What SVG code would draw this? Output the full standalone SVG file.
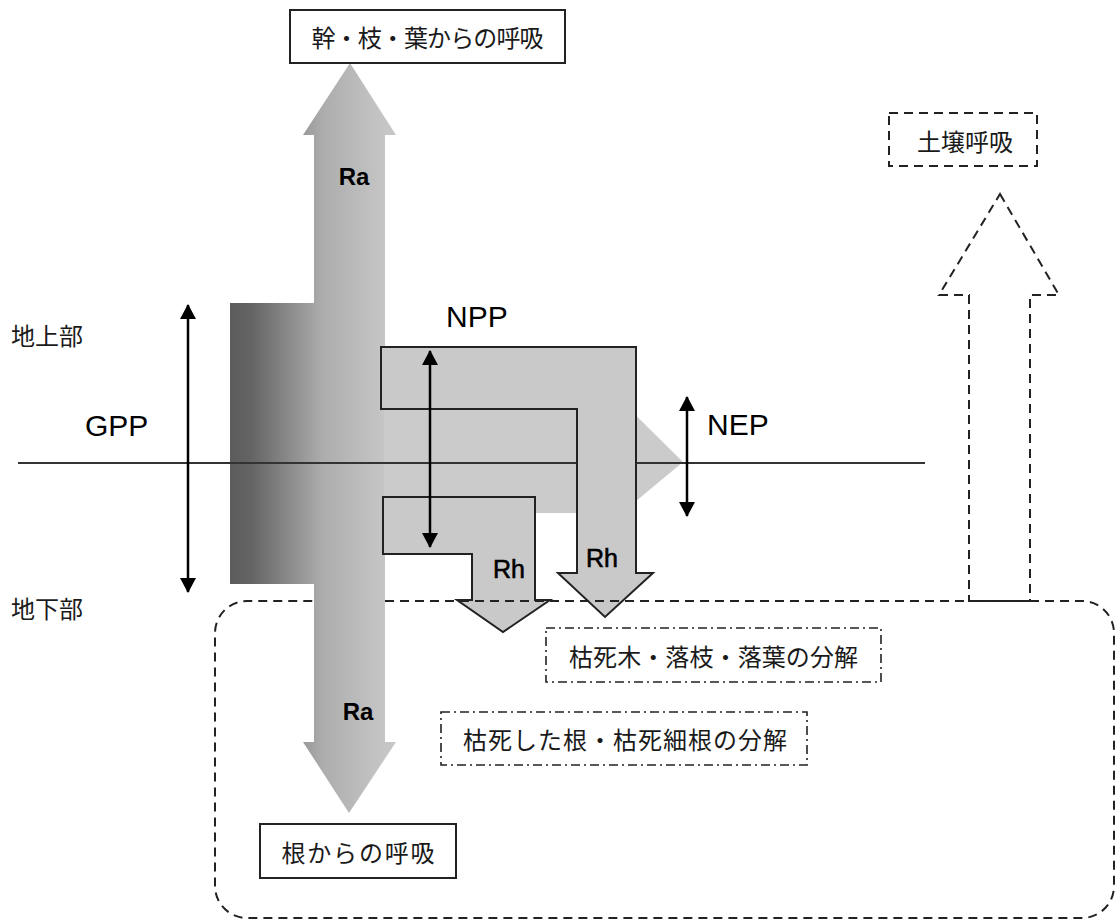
<svg xmlns="http://www.w3.org/2000/svg" width="1116" height="920" viewBox="0 0 1116 920">
<style>
.jp{font-family:"Noto Sans CJK JP","Noto Sans",sans-serif;font-size:24px;fill:#1a1a1a}
.lbl{font-family:"Liberation Sans",Arial,sans-serif;font-size:30px;fill:#000}
.ra{font-family:"Liberation Sans",Arial,sans-serif;font-size:24px;font-weight:bold;fill:#000;text-anchor:middle}
.rh{font-family:"Liberation Sans",Arial,sans-serif;font-size:25px;fill:#000;stroke:#000;stroke-width:0.6;text-anchor:middle}
.box{fill:#fff;stroke:#222;stroke-width:2}
.dash{fill:none;stroke:#222;stroke-width:2;stroke-dasharray:9 6}
.dashdot{fill:#fff;stroke:#222;stroke-width:1.6;stroke-dasharray:9 4 2 4}
.flow{fill:#c9c9c9;stroke:#222;stroke-width:2;stroke-linejoin:miter}
.dbl{stroke:#000;stroke-width:2.5;fill:none;marker-start:url(#ah);marker-end:url(#ah)}
</style>
<defs>
<linearGradient id="g" gradientUnits="userSpaceOnUse" x1="230" y1="0" x2="385" y2="0">
<stop offset="0" stop-color="#5c5c5c"/>
<stop offset="0.14" stop-color="#646464"/>
<stop offset="0.6" stop-color="#adadad"/>
<stop offset="1" stop-color="#c6c6c6"/>
</linearGradient>
<marker id="ah" viewBox="0 0 15 16" refX="14" refY="8" markerWidth="15" markerHeight="16" markerUnits="userSpaceOnUse" orient="auto-start-reverse">
<path d="M0,0 L15,8 L0,16 z" fill="#000"/>
</marker>
</defs>
<rect width="1116" height="920" fill="#fff"/>

<g id="ra-gpp-flow">
<path d="M350,63 L396,135 L385,135 L385,742 L396,742 L349,813 L303,742 L314,742 L314,584 L230,584 L230,303 L314,303 L314,135 L303,135 Z" fill="url(#g)"/>
<text class="ra" x="354" y="185">Ra</text>
<text class="ra" x="358" y="720">Ra</text>
</g>

<g id="nep-flow">
<rect x="384" y="400" width="216" height="113" fill="#cbcbcb"/>
<polygon points="600,380 683,462 600,531" fill="#cbcbcb"/>
</g>

<g id="connectors">
<line x1="18" y1="463" x2="925" y2="463" stroke="#333" stroke-width="2"/>
<line class="dbl" x1="188" y1="305" x2="188" y2="592"/>
<line class="dbl" x1="687" y1="397" x2="687" y2="516"/>
</g>

<g id="rh-roots">
<polygon class="flow" points="383,497 535,497 535,600 550,600 503,632 457,600 472,600 472,554 383,554"/>
<text class="rh" x="509" y="578">Rh</text>
</g>

<g id="rh-litter">
<polygon class="flow" points="381,347 636,347 636,573 653,573 605,617 558,573 577,573 577,409 381,409"/>
<text class="rh" x="602" y="567">Rh</text>
</g>

<g id="npp-arrow">
<line class="dbl" x1="430" y1="351" x2="430" y2="547"/>
</g>

<g id="soil-region">
<path class="dash" d="M385,601 H1082 A32,32 0 0 1 1114,633 V886 A32,32 0 0 1 1082,918 H247 A32,32 0 0 1 215,886 V633 A32,32 0 0 1 247,601 H314"/>
</g>

<g id="soil-arrow">
<polygon class="dash" points="1000,194 1059,295 1030,295 1030,601 969,601 969,295 939,295"/>
</g>

<g id="labels">
<text class="jp" x="11" y="345">地上部</text>
<text class="jp" x="11" y="618">地下部</text>
<text class="lbl" x="85" y="436">GPP</text>
<text class="lbl" x="446" y="327">NPP</text>
<text class="lbl" x="707" y="435">NEP</text>
</g>

<g id="node-aboveground-resp">
<rect class="box" x="290" y="10" width="275" height="53"/>
<text class="jp" x="427.5" y="47" text-anchor="middle" textLength="232">幹・枝・葉からの呼吸</text>
</g>

<g id="node-soil-resp">
<rect x="889" y="113" width="148" height="53" class="dash" fill="#fff"/>
<text class="jp" x="965" y="151" text-anchor="middle" font-size="25">土壌呼吸</text>
</g>

<g id="node-litter-decomp">
<rect class="dashdot" x="546" y="628" width="335" height="54"/>
<text class="jp" x="713.5" y="666" text-anchor="middle" textLength="289">枯死木・落枝・落葉の分解</text>
</g>

<g id="node-root-decomp">
<rect class="dashdot" x="441" y="712" width="366" height="53"/>
<text class="jp" x="625" y="749" text-anchor="middle" textLength="324">枯死した根・枯死細根の分解</text>
</g>

<g id="node-root-resp">
<rect class="box" x="260" y="824" width="196" height="54"/>
<text class="jp" x="358" y="862" text-anchor="middle" textLength="153">根からの呼吸</text>
</g>
</svg>
